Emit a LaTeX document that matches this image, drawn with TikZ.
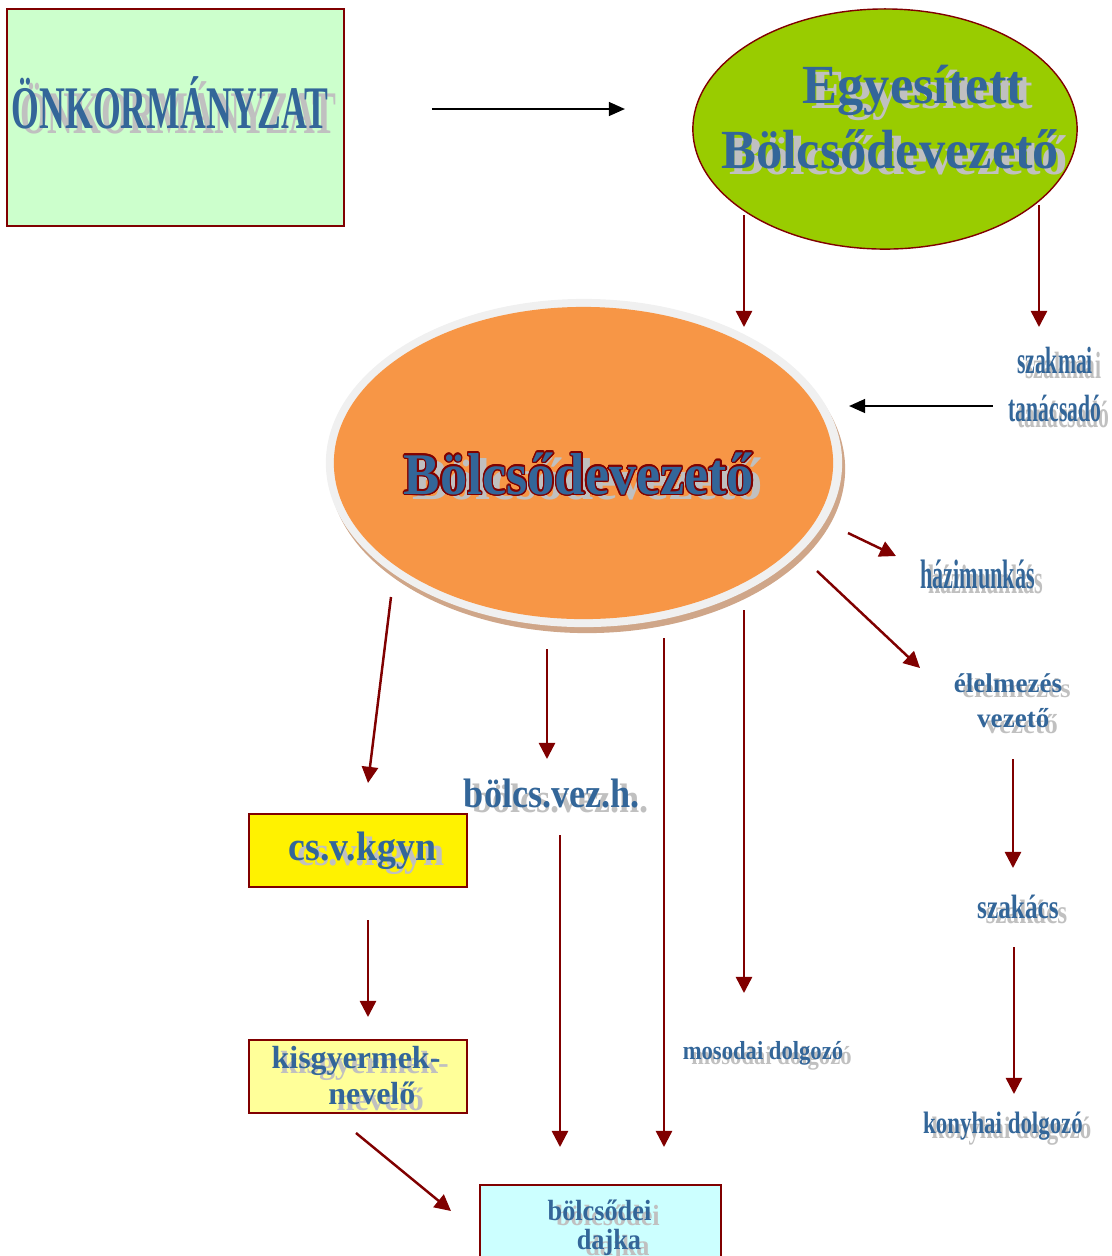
\documentclass[tikz,border=0pt]{standalone}
\usepackage{fontspec}
\setmainfont{Liberation Serif}
\usepackage{graphicx}
\usepackage[copies]{contour}
\usetikzlibrary{shapes.geometric,arrows.meta}

\definecolor{txtblue}{HTML}{336699}
\definecolor{shgray}{HTML}{C0C0C0}
\definecolor{dred}{HTML}{800000}
\definecolor{mint}{HTML}{CCFFCC}
\definecolor{lime}{HTML}{99CC00}
\definecolor{peach}{HTML}{F79646}
\definecolor{rimgray}{HTML}{F0F0F0}
\definecolor{tanshadow}{HTML}{CFA689}
\definecolor{paleyellow}{HTML}{FFFF99}
\definecolor{palecyan}{HTML}{CCFFFF}

\newlength\shdx \setlength\shdx{2.4pt}
\newlength\shdy \setlength\shdy{1.7pt}
\contourlength{0.4pt}

% text with grey drop shadow, #1 = horizontal stretch
\newcommand\shtext[2]{%
  \makebox[0pt][l]{\hspace{\shdx}\raisebox{-\shdy}{\scalebox{#1}[1]{\color{shgray}\begin{tabular}[t]{@{}c@{}}#2\end{tabular}}}}%
  \scalebox{#1}[1]{\color{txtblue}\begin{tabular}[t]{@{}c@{}}#2\end{tabular}}}
% same, with dark red outline
\newcommand\shtextol[2]{%
  \makebox[0pt][l]{\hspace{\shdx}\raisebox{-\shdy}{\scalebox{#1}[1]{\color{shgray}#2}}}%
  \scalebox{#1}[1]{\color{txtblue}\contour{dred}{#2}}}

\tikzset{
  darr/.style={dred, line width=0.7pt, -{Triangle[length=4.6pt,width=4.6pt]}},
  barr/.style={black, line width=0.7pt, -{Triangle[length=4.6pt,width=3.9pt]}},
  box/.style={rectangle, draw=dred, line width=0.6pt, inner sep=0pt},
  lbl/.style={inner sep=0pt, anchor=base},
}

\begin{document}
\begin{tikzpicture}[x=0.01cm, y=-0.01cm]
\useasboundingbox (0,0) rectangle (1112,1256);

% boxes and ellipses
\node[box, fill=mint, minimum width=3.37cm, minimum height=2.17cm] (onkbox) at (175.5,117.5) {};
\node[ellipse, draw=dred, line width=0.4pt, fill=lime, minimum width=3.84cm, minimum height=2.40cm, inner sep=0pt] (egy) at (885,129) {};
\node[ellipse, fill=tanshadow, minimum width=5.16cm, minimum height=3.28cm, inner sep=0pt] (vezsh) at (587,469) {};
\node[ellipse, fill=rimgray, minimum width=5.16cm, minimum height=3.28cm, inner sep=0pt] (vez) at (584,463) {};
\node[ellipse, fill=peach, minimum width=4.99cm, minimum height=3.12cm, inner sep=0pt] (vezin) at (583.5,463) {};
\node[box, fill=yellow, minimum width=2.18cm, minimum height=0.73cm] (csvbox) at (358,850.5) {};
\node[box, fill=paleyellow, minimum width=2.18cm, minimum height=0.73cm] (kisgybox) at (358,1076.5) {};
\node[box, fill=palecyan, minimum width=2.41cm, minimum height=0.80cm] (dajkabox) at (600.5,1225) {};

% labels
\node[lbl, font=\fontsize{17.2}{20}\selectfont\bfseries] (onk) at (170,128) {\shtext{0.59}{ÖNKORMÁNYZAT}};
\node[lbl, font=\fontsize{15.7}{18.5}\selectfont\bfseries] (egytxt) at (890,103) {\shtext{0.95}{\hspace*{14pt}Egyesített\\Bölcsődevezető}};
\node[lbl, font=\fontsize{16.8}{20}\selectfont\bfseries] (veztxt) at (579,494) {\shtextol{0.92}{Bölcsődevezető}};
\node[lbl, font=\fontsize{10.8}{13.7}\selectfont\bfseries] (szakmai) at (1055,373) {\shtext{0.57}{szakmai\\tanácsadó}};
\node[lbl, font=\fontsize{11.7}{14}\selectfont\bfseries] (hazi) at (977.5,588) {\shtext{0.54}{házimunkás}};
\node[lbl, font=\fontsize{7.7}{10}\selectfont\bfseries] (elelm) at (1008,692) {\shtext{1}{élelmezés\\\hspace*{3pt}vezető}};
\node[lbl, font=\fontsize{9.6}{12}\selectfont\bfseries] (szakacs) at (1018,918) {\shtext{0.75}{szakács}};
\node[lbl, font=\fontsize{8.8}{11}\selectfont\bfseries] (konyha) at (1003,1133) {\shtext{0.74}{konyhai dolgozó}};
\node[lbl, font=\fontsize{7.4}{9}\selectfont\bfseries] (mosoda) at (763,1059) {\shtext{0.87}{mosodai dolgozó}};
\node[lbl, font=\fontsize{11.7}{14}\selectfont\bfseries] (bvh) at (552,807) {\shtext{0.88}{bölcs.vez.h.}};
\node[lbl, font=\fontsize{11.7}{14}\selectfont\bfseries] (csv) at (362.5,860) {\shtext{0.92}{cs.v.kgyn}};
\node[lbl, font=\fontsize{9.1}{10.5}\selectfont\bfseries] (kisgy) at (356,1068) {\shtext{1}{kisgyermek-\\\hspace*{9pt}nevelő}};
\node[lbl, font=\fontsize{8.3}{8.5}\selectfont\bfseries] (dajka) at (599.5,1220) {\shtext{0.9}{bölcsődei\\\hspace*{6pt}dajka}};

% free ends of the connectors
\coordinate (onk-e) at (432,109);
\coordinate (egy-w) at (625,109);
\coordinate (egy-s1) at (744,215);
\coordinate (vez-n1) at (744,327);
\coordinate (egy-s2) at (1039,205);
\coordinate (szakmai-n) at (1039,327);
\coordinate (szakmai-w) at (993,406);
\coordinate (vez-e) at (849,406);
\coordinate (vez-se1) at (848,533);
\coordinate (hazi-w) at (896,556);
\coordinate (vez-se2) at (817,571);
\coordinate (elelm-nw) at (920,668);
\coordinate (elelm-s) at (1013,759);
\coordinate (szakacs-n) at (1013,868);
\coordinate (szakacs-s) at (1014,947);
\coordinate (konyha-n) at (1014,1094);
\coordinate (vez-s1) at (744,610);
\coordinate (mosoda-n) at (744,993);
\coordinate (vez-s2) at (664,638);
\coordinate (dajka-n2) at (664,1147);
\coordinate (vez-s3) at (547,649);
\coordinate (bvh-n) at (547,759);
\coordinate (bvh-s) at (560,835);
\coordinate (dajka-n1) at (560,1147);
\coordinate (vez-sw) at (391,597);
\coordinate (csv-n) at (368,783);
\coordinate (csv-s) at (368,920);
\coordinate (kisgy-n) at (368,1017);
\coordinate (kisgy-s) at (356,1133);
\coordinate (dajka-nw) at (451,1211);

% connectors
\draw[barr] (onk-e) -- (egy-w);
\draw[darr] (egy-s1) -- (vez-n1);
\draw[darr] (egy-s2) -- (szakmai-n);
\draw[barr] (szakmai-w) -- (vez-e);
\draw[darr] (vez-se1) -- (hazi-w);
\draw[darr] (vez-se2) -- (elelm-nw);
\draw[darr] (elelm-s) -- (szakacs-n);
\draw[darr] (szakacs-s) -- (konyha-n);
\draw[darr] (vez-s1) -- (mosoda-n);
\draw[darr] (vez-s2) -- (dajka-n2);
\draw[darr] (vez-s3) -- (bvh-n);
\draw[darr] (bvh-s) -- (dajka-n1);
\draw[darr] (vez-sw) -- (csv-n);
\draw[darr] (csv-s) -- (kisgy-n);
\draw[darr] (kisgy-s) -- (dajka-nw);
\end{tikzpicture}
\end{document}
